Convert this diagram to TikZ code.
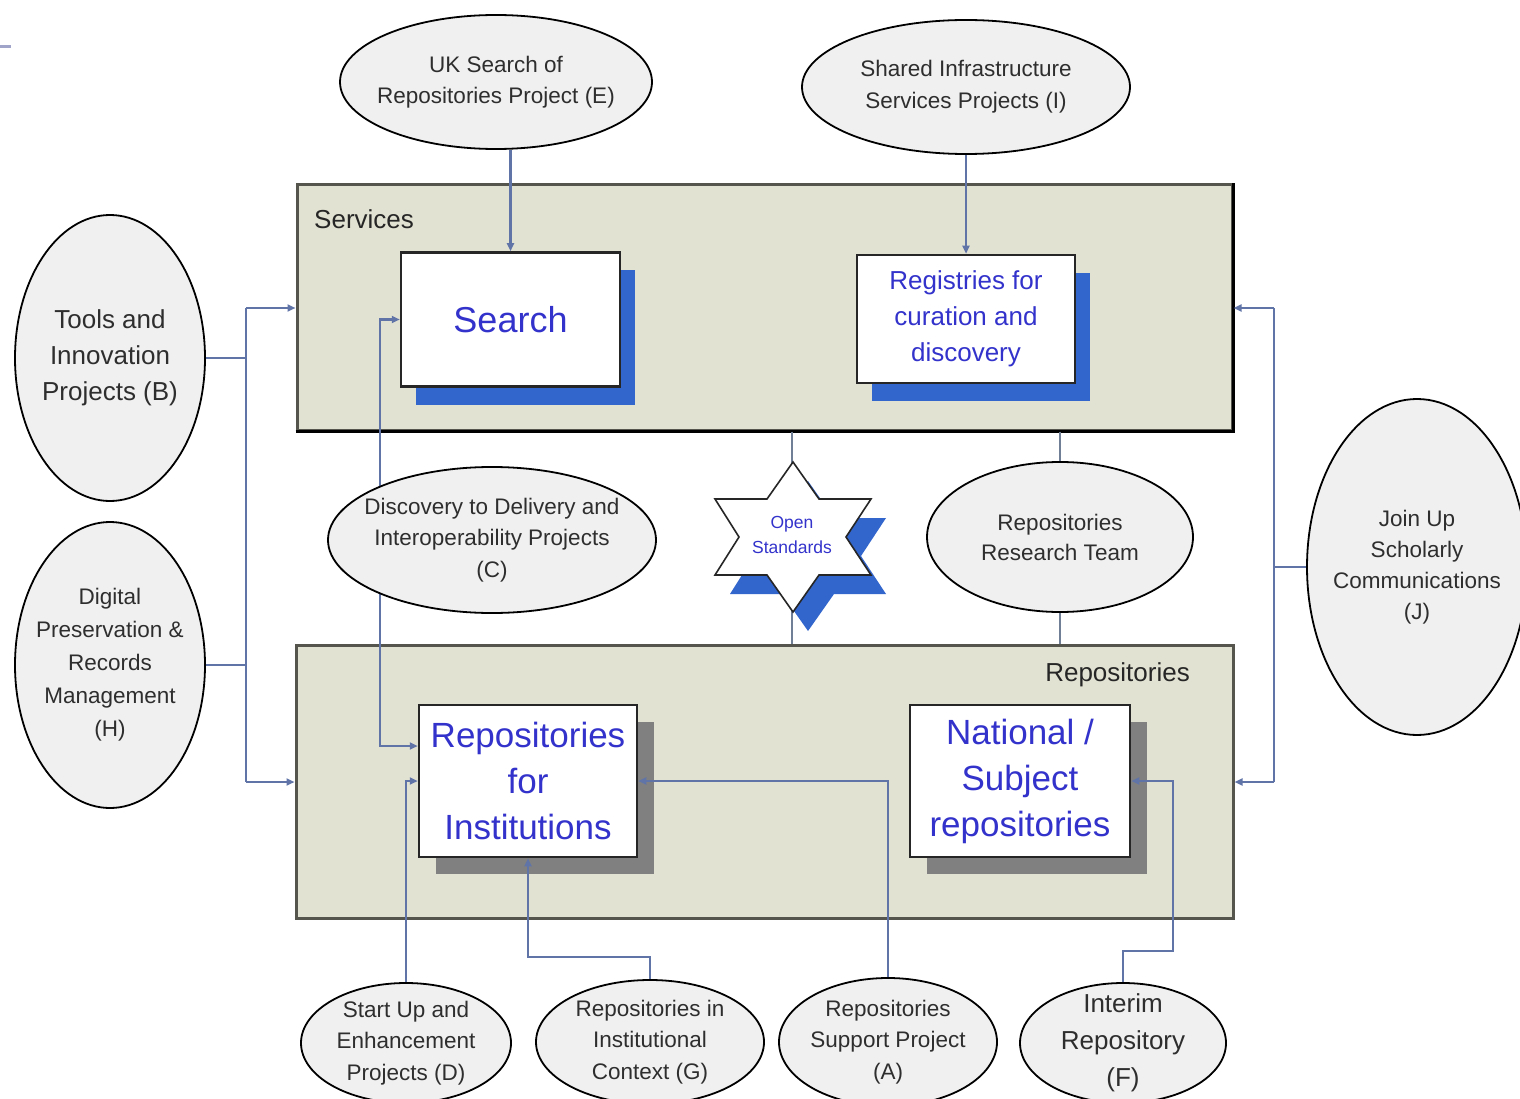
\documentclass[tikz,border=0pt]{standalone}
\usepackage{fontspec}
\setmainfont{Liberation Sans}
\usetikzlibrary{shapes.geometric,arrows.meta,shadows}
\definecolor{boxfill}{RGB}{226,226,210}
\definecolor{shblue}{RGB}{51,102,204}
\definecolor{txtblue}{RGB}{51,51,204}
\definecolor{ellfill}{RGB}{240,240,240}
\definecolor{conncol}{RGB}{96,116,168}
\definecolor{vlinecol}{RGB}{112,126,150}
\definecolor{shgray}{RGB}{128,128,128}
\definecolor{boxedge}{RGB}{85,85,78}
\definecolor{dashcol}{RGB}{160,164,200}
\pgfdeclarelayer{boxlayer}
\pgfdeclarelayer{underlayer}
\pgfsetlayers{boxlayer,underlayer,main}
\newcommand{\fsz}[2]{\fontsize{#1}{#2}\selectfont}
\begin{document}
\begin{tikzpicture}[x=1pt,y=-1pt,
  bigbox/.style={rectangle, draw=boxedge, line width=3pt, fill=boxfill, inner sep=0pt},
  innerbox/.style={rectangle, draw=black!85, line width=2.5pt, fill=white, text=txtblue, align=center, inner sep=0pt},
  blueshadow/.style={drop shadow={shadow xshift=15pt, shadow yshift=-18pt, fill=shblue, opacity=1}},
  grayshadow/.style={drop shadow={shadow xshift=17pt, shadow yshift=-17pt, fill=shgray, opacity=1}},
  proj/.style={ellipse, draw=black, line width=1.8pt, fill=ellfill, inner sep=0pt},
  ptext/.style={align=center, text=black!82, inner sep=0pt},
  conn/.style={draw=conncol, line width=2.2pt},
  arr/.style={conn, -{Triangle[length=8pt,width=7pt]}},
  biarr/.style={conn, {Triangle[length=8pt,width=7pt]}-{Triangle[length=8pt,width=7pt]}},
  vline/.style={draw=vlinecol, line width=2.2pt},
  lbl/.style={inner sep=0pt, text=black!85}
]
\useasboundingbox (0,0) rectangle (1520,1099);
\clip (0,0) rectangle (1520,1099);

\begin{pgfonlayer}{boxlayer}
  \fill[white] (0,0) rectangle (1520,1099);
  \node[bigbox, minimum width=935pt, minimum height=245pt] (serv) at (764.5,307.5) {};
  \draw[black, line width=3pt] (serv.south west) -- (serv.south east) -- (serv.north east);
  \node[bigbox, minimum width=937pt, minimum height=273pt] (repo) at (764.5,781.5) {};
\end{pgfonlayer}

\draw[dashcol, line width=3pt] (0,47) -- (11,47);

\node[lbl, anchor=base west, font=\fsz{26}{30}] (servlbl) at (314,229) {Services};
\node[lbl, anchor=base east, font=\fsz{26}{30}] (repolbl) at (1190,681) {Repositories};

% inner boxes
\node[innerbox, blueshadow, minimum width=219pt, minimum height=134pt, font=\fsz{36}{40}] (srch) at (510.5,319.5) {Search};
\node[innerbox, blueshadow, minimum width=218pt, minimum height=128pt, font=\fsz{26}{36}] (reg) at (966,319) {Registries for\\curation and\\discovery};
\node[innerbox, grayshadow, minimum width=218pt, minimum height=152pt, font=\fsz{35}{46}] (ri) at (528,781) {Repositories\\for\\Institutions};
\node[innerbox, grayshadow, minimum width=220pt, minimum height=152pt, font=\fsz{35}{46}] (ns) at (1020,781) {National /\\Subject\\repositories};

% star
\begin{scope}[shift={(793,537)}]
  \fill[shblue, shift={(15,19)}] (0,-75) -- (26,-38) -- (78,-38) -- (53,0) -- (78,38) -- (26,38) -- (0,75) -- (-26,38) -- (-78,38) -- (-54,0) -- (-78,-38) -- (-26,-38) -- cycle;
  \draw[black!85, line width=1.6pt, fill=white] (0,-75) -- (26,-38) -- (78,-38) -- (53,0) -- (78,38) -- (26,38) -- (0,75) -- (-26,38) -- (-78,38) -- (-54,0) -- (-78,-38) -- (-26,-38) -- cycle;
\end{scope}
\node[inner sep=0pt, font=\fsz{17.5}{25}, text=txtblue, align=center] (open) at (792,535) {Open\\Standards};

% project ellipses
\node[proj, minimum width=312pt, minimum height=134pt, label={[ptext, font=\fsz{22.5}{31}]center:UK Search of\\Repositories Project (E)}] (e) at (496,82) {};
\node[proj, minimum width=328pt, minimum height=134pt, label={[ptext, font=\fsz{22.5}{32}]center:Shared Infrastructure\\Services Projects (I)}] (i) at (966,87) {};
\node[proj, minimum width=190pt, minimum height=286pt, label={[ptext, font=\fsz{26}{36}]center:Tools and\\Innovation\\Projects (B)}] (b) at (110,358) {};
\node[proj, minimum width=190pt, minimum height=286pt, label={[ptext, font=\fsz{22.5}{33}]center:Digital\\Preservation \&\\Records\\Management\\(H)}] (h) at (110,665) {};
\node[proj, minimum width=328pt, minimum height=146pt, label={[ptext, font=\fsz{22.5}{31.5}]center:Discovery to Delivery and\\Interoperability Projects\\(C)}] (c) at (492,540) {};
\node[proj, minimum width=266pt, minimum height=150pt, label={[ptext, font=\fsz{22.5}{30}]center:Repositories\\Research Team}] (rrt) at (1060,537) {};
\node[proj, minimum width=220pt, minimum height=336pt, label={[ptext, font=\fsz{22.5}{31}]center:Join Up\\Scholarly\\Communications\\(J)}] (j) at (1417,567) {};
\node[proj, minimum width=210pt, minimum height=120pt, label={[ptext, font=\fsz{22.5}{31.5}]center:Start Up and\\Enhancement\\Projects (D)}] (d) at (406,1043) {};
\node[proj, minimum width=228pt, minimum height=124pt, label={[ptext, font=\fsz{22.5}{31.5}]center:Repositories in\\Institutional\\Context (G)}] (g) at (650,1042) {};
\node[proj, minimum width=218pt, minimum height=128pt, label={[ptext, font=\fsz{22.5}{31.5}]center:Repositories\\Support Project\\(A)}] (a) at (888,1042) {};
\node[proj, minimum width=206pt, minimum height=120pt, label={[ptext, font=\fsz{26}{37}]center:Interim\\Repository\\(F)}] (f) at (1123,1043) {};

% connectors
\draw[arr] (srch.north |- e.south) -- (srch.north);
\draw[arr] (reg.north |- i.south) -- (reg.north);

\coordinate (lb1) at (246,308);
\coordinate (lb2) at (246,782);
\draw[conn] (lb1) -- (lb2);
\draw[arr] (lb1) -- (lb1 -| serv.west);
\draw[arr] (lb2) -- (lb2 -| repo.west);
\draw[conn] (b.east) -- (b.east -| lb1);
\draw[conn] (h.east) -- (h.east -| lb1);

\coordinate (rb1) at (1274,308);
\coordinate (rb2) at (1274,782);
\draw[conn] (rb1) -- (rb2);
\draw[arr] (rb1) -- (rb1 -| serv.east);
\draw[arr] (rb2) -- (rb2 -| repo.east);
\draw[conn] (j.west) -- (j.west -| rb1);

\draw[arr] (d.north) |- (ri.west);
\draw[arr] (g.north) -- ++(0,-22) -| (ri.south);
\draw[arr] (a.north) |- (ri.east);
\draw[arr] (f.north) -- ++(0,-31) -| ([xshift=42pt]ns.east) -- (ns.east);

\begin{pgfonlayer}{underlayer}
  \draw[biarr] (srch.west) -- ++(-20,0) |- ([yshift=35pt]ri.west);
  \draw[vline] (open |- serv.south) -- (open |- repo.north);
  \draw[vline] (rrt |- serv.south) -- (rrt |- repo.north);
\end{pgfonlayer}
\end{tikzpicture}
\end{document}
